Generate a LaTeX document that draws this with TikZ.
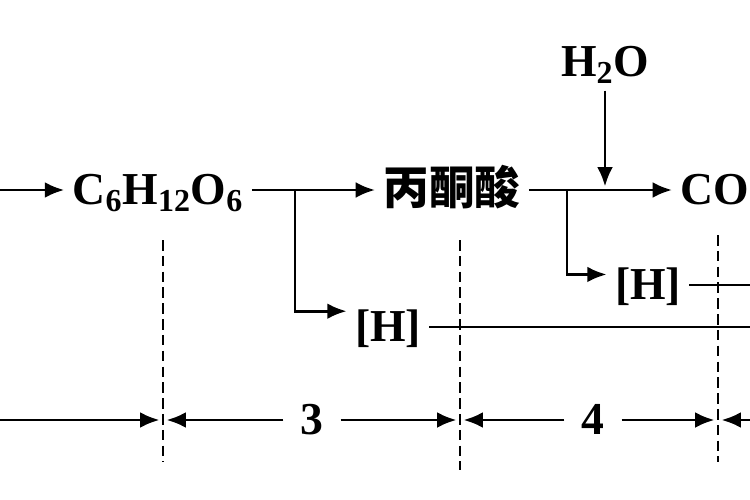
\documentclass[tikz,border=0pt]{standalone}
\usepackage{fontspec}
\setmainfont{Liberation Serif}
\newfontfamily\cjk{Noto Sans CJK SC}
\usetikzlibrary{arrows.meta}
\usetikzlibrary{positioning}
\tikzstyle{chem}=[inner sep=4pt,text height=20pt,text depth=3pt,font=\fontsize{26}{28}\selectfont\bfseries]
\tikzstyle{stage}=[inner sep=9pt,text height=17pt,text depth=0pt,font=\fontsize{26}{28}\selectfont\bfseries]
\tikzstyle{arrow}=[-{Latex[length=11pt,width=9pt]}]
\tikzstyle{guide}=[dash pattern=on 6pt off 3pt]
\tikzset{every picture/.style={
    line width=1.6pt
  }
}
\begin{document}
\begin{tikzpicture}[x=0.2mm,y=-0.2mm]
    \useasboundingbox (0,0) rectangle (750,500);
    % substances
    \node[chem] at (158,190) (glucose) {C\textsubscript{6}H\textsubscript{12}O\textsubscript{6}};
    \node[chem] at (452,190) (pyruvate) {\cjk\bfseries 丙酮酸};
    \node[chem,anchor=west] at (672,190) (co) {CO};
    \node[chem] at (605,62) (water) {H\textsubscript{2}O};
    \node[chem] at (388,327) (h1) {[H]};
    \node[chem] at (648,285) (h2) {[H]};
    \coordinate (in) at (0,190);
    \coordinate (b1) at (295,190);
    \coordinate (b2) at (567,190);
    \coordinate (join) at (605,190);
    \coordinate (e1) at (750,327);
    \coordinate (e2) at (750,285);
    \draw[arrow] (in) -- (glucose);
    \draw[arrow] (glucose) -- (pyruvate);
    \draw[arrow] (pyruvate) -- (co);
    \draw[arrow,shorten >=2pt] (water) -- (join);
    \draw[arrow] (b1) |- ([yshift=9pt]h1.west);
    \draw[arrow] (b2) |- ([yshift=6pt]h2.west);
    \draw (h1.east) -- (e1);
    \draw (h2.east) -- (e2);
    % stage borders
    \coordinate (s1top) at (163,240);
    \coordinate (s1bot) at (163,462);
    \coordinate (s2top) at (460,240);
    \coordinate (s2bot) at (460,470);
    \coordinate (s3top) at (718,235);
    \coordinate (s3bot) at (718,462);
    \draw[guide] (s1top) -- (s1bot);
    \draw[guide] (s2top) -- (s2bot);
    \draw[guide] (s3top) -- (s3bot);
    % stage numbers
    \node[stage] at (312,420) (n3) {3};
    \node[stage] at (593,420) (n4) {4};
    \coordinate (m0) at (0,420);
    \coordinate (m1) at (163,420);
    \coordinate (m2) at (460,420);
    \coordinate (m3) at (718,420);
    \coordinate (m4) at (750,420);
    \draw[arrow,shorten >=2pt] (m0) -- (m1);
    \draw[arrow,shorten >=2pt] (n3) -- (m1);
    \draw[arrow,shorten >=2pt] (n3) -- (m2);
    \draw[arrow,shorten >=2pt] (n4) -- (m2);
    \draw[arrow,shorten >=2pt] (n4) -- (m3);
    \draw[arrow,shorten >=2pt] (m4) -- (m3);
\end{tikzpicture}
\end{document}
